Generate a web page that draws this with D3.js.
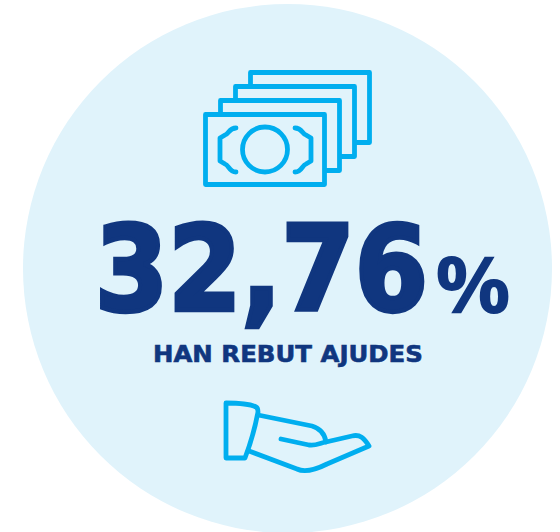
<html>
<head>
<meta charset="utf-8">
<script src="https://d3js.org/d3.v7.min.js"></script>
<style>
html, body {margin: 0; padding: 0; background: #fff;}
svg {display: block;}
text {font-family: "DejaVu Sans", sans-serif; fill: #10367f;}
</style>
</head>
<body>
<svg width="560" height="532"></svg>
<script>
// data
var value = [32.76];
var unit = ["%"];
var label = ["HAN REBUT AJUDES"];

var svg = d3.select("svg");
var iconColor = "#00aeef";
var discColor = "#e0f3fb";

//background disc
svg.append("circle")
    .attr("cx", 287.5).attr("cy", 268.5).attr("r", 264.5)
    .style("fill", discColor);

//bills, back to front
var bills = [
    {x: 250.5, y: 72.5, w: 119, h: 70},
    {x: 235.5, y: 86.5, w: 119, h: 70},
    {x: 220.5, y: 100.5, w: 119, h: 70},
    {x: 205.5, y: 114.5, w: 119, h: 70}
];
var icon = svg.append("g")
    .style("fill", "none")
    .style("stroke", iconColor)
    .style("stroke-width", 4.8)
    .style("stroke-linejoin", "round")
    .style("stroke-linecap", "round");

icon.selectAll("rect.bill")
    .data(bills)
    .enter()
    .append("rect")
    .attr("class", "bill")
    .attr("x", function(d) {return d.x;})
    .attr("y", function(d) {return d.y;})
    .attr("width", function(d) {return d.w;})
    .attr("height", function(d) {return d.h;})
    .style("fill", discColor);

icon.append("circle")
    .attr("cx", 265).attr("cy", 149.5).attr("r", 22.5);

icon.append("path")
    .attr("d", "M236,128 C229,128 229,134 225,135 L220,138 L220,161 L225,164 C229,165 229,172 236,172");
icon.append("path")
    .attr("d", "M295,128 C302,128 302,134 306,135 L311,138 L311,161 L306,164 C302,165 302,172 295,172");

//hand
icon.append("path")
    .attr("d", "M226,403 C236,403 250,404 256,407 Q258,408 258,412 C255,428 250,445 245,458 L226,458 Z");
icon.append("path")
    .attr("d", "M258,415 L312,426 C322,429 325,435 326,442 L352,436 C360,434 364,438 369,446 L327,464 C315,470 305,473 297,469 L249,451");
icon.append("path")
    .attr("d", "M281,439 L309,445 C316,446 320,443 326,442");

//squeeze a text to the width it has in the picture
function fit(sel, x, y, width) {
    var k = width / sel.node().getComputedTextLength();
    sel.attr("transform", "translate(" + x + "," + y + ") scale(" + k + ",1)");
}

//number
var fmt = d3.formatLocale({decimal: ",", thousands: ".", grouping: [3], currency: ["", "%"]}).format(".2f");

svg.append("text")
    .style("font-size", "118px").style("font-weight", 700)
    .style("stroke", "#10367f").style("stroke-width", 4.5)
    .text(fmt(value[0]))
    .call(fit, 95, 310, 333);

svg.append("text")
    .style("font-family", "'Open Sans', sans-serif")
    .style("font-size", "79px").style("font-weight", 700)
    .text(unit[0])
    .call(fit, 435, 313, 76);

svg.append("text")
    .style("font-size", "23.5px").style("font-weight", 700)
    .style("stroke", "#10367f").style("stroke-width", 0.6)
    .text(label[0])
    .call(fit, 153, 362, 270);
</script>
</body>
</html>
